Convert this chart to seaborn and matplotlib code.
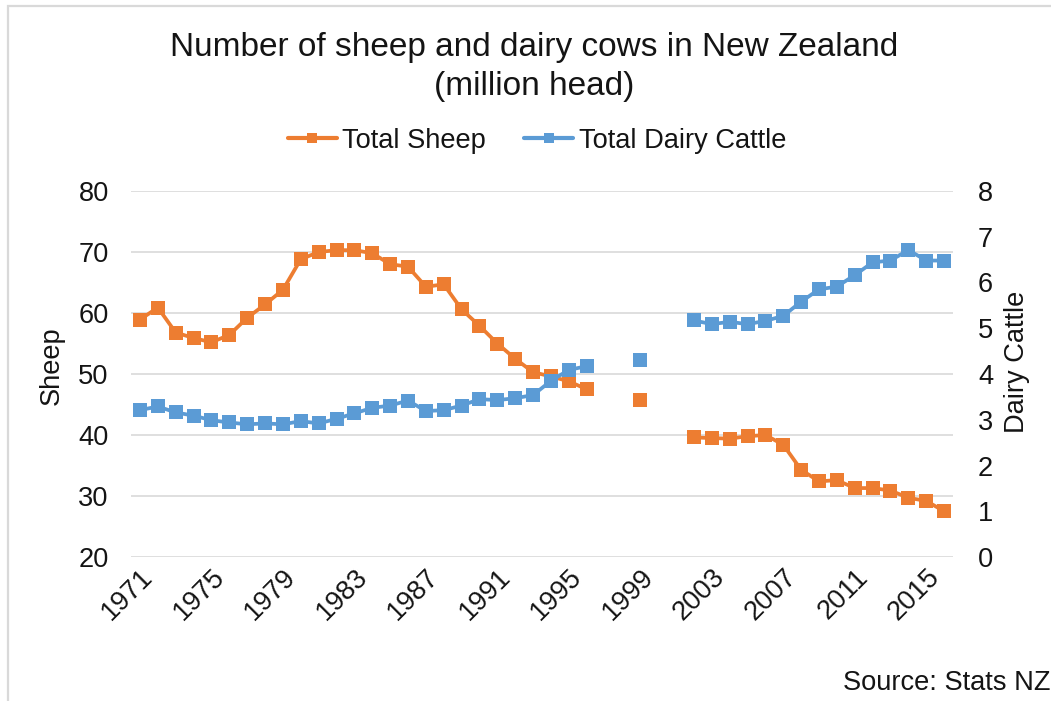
import numpy as np
import pandas as pd
import matplotlib
matplotlib.use("Agg")
import matplotlib.pyplot as plt
import seaborn as sns
from matplotlib.lines import Line2D
from matplotlib.patches import Rectangle

nan = np.nan

# ---------------- data ----------------
years = list(range(1971, 2017))
sheep = [58.9, 60.9, 56.8, 55.9, 55.2, 56.4, 59.2, 61.4, 63.8, 68.8,
         70.0, 70.3, 70.3, 69.8, 68.0, 67.6, 64.3, 64.7, 60.6, 57.9,
         55.0, 52.5, 50.3, 49.6, 48.8, 47.5, nan, nan, 45.7, nan,
         nan, 39.6, 39.5, 39.4, 39.8, 40.0, 38.4, 34.3, 32.4, 32.6,
         31.3, 31.3, 30.9, 29.7, 29.2, 27.5]
dairy = [3.21, 3.29, 3.16, 3.09, 2.99, 2.94, 2.90, 2.92, 2.90, 2.97,
         2.92, 3.02, 3.14, 3.26, 3.31, 3.42, 3.19, 3.21, 3.31, 3.45,
         3.43, 3.47, 3.54, 3.85, 4.09, 4.17, nan, nan, 4.31, nan,
         nan, 5.17, 5.09, 5.14, 5.09, 5.16, 5.27, 5.58, 5.85, 5.91,
         6.16, 6.44, 6.48, 6.71, 6.48, 6.48]
xtick_years = list(range(1971, 2016, 4))
sheep_ticks = [20, 30, 40, 50, 60, 70, 80]
dairy_ticks = [0, 1, 2, 3, 4, 5, 6, 7, 8]
series_names = ["Total Sheep", "Total Dairy Cattle"]
title_lines = ["Number of sheep and dairy cows in New Zealand", "(million head)"]

ORANGE = "#ED7D31"
BLUE = "#5B9BD5"
GRID = "#D9D9D9"
TXT = "#141414"
FS = 19.6

sns.set_theme(style="white")
plt.rcParams["font.family"] = ["Liberation Sans", "DejaVu Sans"]

df = pd.DataFrame({"Year": years, "Sheep": sheep, "Dairy": dairy})


def seg_ids(s):
    valid = s.notna()
    return (valid != valid.shift()).cumsum()


df["seg_s"] = seg_ids(df["Sheep"])
df["seg_d"] = seg_ids(df["Dairy"])

W, H = 1051, 701
fig = plt.figure(figsize=(W / 100, H / 100), dpi=100)
fig.patch.set_facecolor("white")

L, R, T, B = 131, 953, 191, 557
ax = fig.add_axes([L / W, 1 - B / H, (R - L) / W, (B - T) / H])
ax2 = ax.twinx()

line_kw = dict(marker="s", markersize=10, markeredgewidth=0, linewidth=2.7,
               estimator=None, legend=False)
sns.lineplot(data=df.dropna(subset=["Sheep"]), x="Year", y="Sheep", units="seg_s",
             color=ORANGE, markeredgecolor=ORANGE, ax=ax, **line_kw)
sns.lineplot(data=df.dropna(subset=["Dairy"]), x="Year", y="Dairy", units="seg_d",
             color=BLUE, markeredgecolor=BLUE, ax=ax2, **line_kw)

for a in (ax, ax2):
    a.set_xlim(years[0] - 0.5, years[-1] + 0.5)
    a.set_xlabel("")
    a.set_ylabel("")
    for sp in a.spines.values():
        sp.set_visible(False)
    a.patch.set_alpha(0)

ax.set_ylim(20, 80)
ax.set_yticks(sheep_ticks)
ax.set_yticklabels([str(v) for v in sheep_ticks])
ax2.set_ylim(0, 8)
ax2.set_yticks(dairy_ticks)
ax2.set_yticklabels([str(v) for v in dairy_ticks])
ax.yaxis.grid(True, color=GRID, linewidth=1.2)
ax.xaxis.grid(False)
ax2.grid(False)
ax.set_axisbelow(True)

ax.set_xticks(xtick_years)
ax.set_xticklabels([str(y) for y in xtick_years], rotation=45, ha="right",
                   va="top", rotation_mode="anchor")
ax.tick_params(axis="x", length=0, pad=5, labelsize=FS, labelcolor=TXT)
ax.tick_params(axis="y", length=0, pad=16, labelsize=FS, labelcolor=TXT)
ax2.tick_params(axis="y", length=0, pad=18, labelsize=FS, labelcolor=TXT)

fig.text(52 / W, 1 - 366 / H, "Sheep", rotation=90, ha="center", va="center",
         fontsize=FS, color=TXT)
fig.text(1017 / W, 1 - 362 / H, "Dairy Cattle", rotation=90, ha="center", va="center",
         fontsize=FS, color=TXT)

fig.text(534.5 / W, 1 - 56 / H, title_lines[0], ha="center", va="baseline",
         fontsize=24, color=TXT)
fig.text(534.5 / W, 1 - 95 / H, title_lines[1], ha="center", va="baseline",
         fontsize=24, color=TXT)

handles = [Line2D([], [], color=ORANGE, marker="s", markersize=7, linewidth=3,
                  markeredgewidth=0),
           Line2D([], [], color=BLUE, marker="s", markersize=7, linewidth=3,
                  markeredgewidth=0)]
fig.legend(handles, series_names, loc="center", bbox_to_anchor=(537 / W, 1 - 141 / H),
           ncol=2, frameon=False, fontsize=FS, handlelength=1.8, handletextpad=0.2,
           columnspacing=1.4, labelcolor=TXT)

fig.text(843 / W, 1 - 690 / H, "Source: Stats NZ", ha="left", va="baseline",
         fontsize=FS, color=TXT)

fig.patches.append(Rectangle((8 / W, -0.1), 1.2, 1 - 6 / H + 0.1,
                             transform=fig.transFigure, fill=False,
                             edgecolor=GRID, linewidth=1.6))

fig.savefig("out.png", dpi=100, facecolor="white")
